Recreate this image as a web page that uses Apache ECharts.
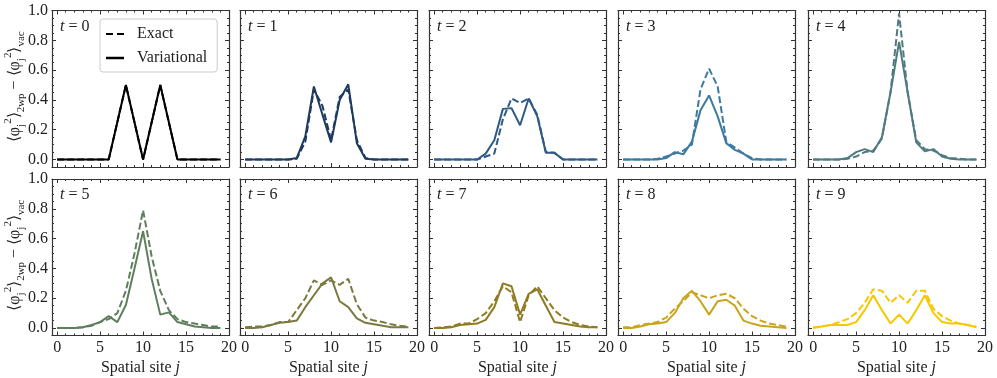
<!DOCTYPE html>
<html>
<head>
<meta charset="utf-8">
<script src="https://cdn.jsdelivr.net/npm/echarts@6/dist/echarts.min.js"></script>
<style>
  html, body { margin: 0; padding: 0; background: #fff; }
  #chart { width: 997px; height: 378px; }
</style>
</head>
<body>
<div id="chart"></div>
<script type="text/javascript">
var sites = [0,1,2,3,4,5,6,7,8,9,10,11,12,13,14,15,16,17,18,19];
var xTicks = [0,5,10,15,20];
var yTicks = [0,0.2,0.4,0.6,0.8,1.0];
var timeLabels = ['0','1','2','3','4','5','6','7','8','9'];
var lineColors = ['#000000','#1f3a5f','#2f5a85','#3d7aa0','#4f7b80','#5e7f5c','#7a7a40','#8e7b22','#c9a41c','#f8c700'];

// Exact (dashed) and Variational (solid) for t = 0..9
var exactT0 = [0,0,0,0,0,0,0,0.25,0.5,0.25,0,0.25,0.5,0.25,0,0,0,0,0,0];
var varT0   = [0,0,0,0,0,0,0,0.25,0.5,0.25,0,0.25,0.5,0.25,0,0,0,0,0,0];
var exactT1 = [0,0,0,0,0,0,0.005,0.12,0.47,0.36,0.13,0.42,0.47,0.13,0.01,0,0,0,0,0];
var varT1   = [0,0,0,0,0,0,0.01,0.155,0.49,0.3,0.115,0.4,0.505,0.11,0.005,0,0,0,0,0];
var exactT2 = [0,0,0,0,0,0,0.02,0.04,0.27,0.41,0.38,0.41,0.3,0.05,0.045,0,0,0,0,0];
var varT2   = [0,0,0,0,0,0,0.04,0.13,0.34,0.345,0.23,0.41,0.29,0.045,0.045,0,0,0,0,0];
var exactT3 = [0,0,0,0,0.005,0.02,0.04,0.06,0.1,0.47,0.61,0.49,0.12,0.08,0.04,0.01,0,0,0,0];
var varT3   = [0,0,0,0,0,0.01,0.05,0.035,0.12,0.33,0.43,0.29,0.11,0.065,0.04,0,0,0,0,0];
var exactT4 = [0,0,0,0,0.005,0.02,0.05,0.06,0.14,0.45,0.98,0.45,0.13,0.07,0.06,0.03,0.01,0.005,0,0];
var varT4   = [0,0,0,0,0.01,0.05,0.07,0.05,0.15,0.45,0.79,0.45,0.115,0.055,0.07,0.02,0.005,0,0,0];
var exactT5 = [0,0,0,0.005,0.015,0.04,0.06,0.1,0.25,0.5,0.79,0.48,0.25,0.12,0.06,0.04,0.03,0.02,0.01,0.01];
var varT5   = [0,0,0,0.005,0.02,0.04,0.08,0.04,0.155,0.4,0.65,0.33,0.09,0.105,0.04,0.025,0.01,0.005,0,0];
var exactT6 = [0.005,0.01,0.01,0.02,0.04,0.04,0.12,0.2,0.32,0.29,0.32,0.29,0.33,0.16,0.07,0.05,0.04,0.025,0.015,0.01];
var varT6   = [0,0,0.005,0.02,0.035,0.04,0.05,0.14,0.22,0.3,0.34,0.18,0.14,0.065,0.035,0.025,0.015,0.005,0.005,0.005];
var exactT7 = [0,0.005,0.01,0.03,0.03,0.06,0.1,0.18,0.28,0.24,0.04,0.22,0.28,0.2,0.12,0.07,0.04,0.02,0.01,0.005];
var varT7   = [0,0,0.005,0.02,0.025,0.03,0.055,0.14,0.3,0.28,0.09,0.23,0.26,0.15,0.04,0.03,0.02,0.01,0.005,0.005];
var exactT8 = [0.005,0.005,0.02,0.03,0.04,0.07,0.13,0.18,0.24,0.22,0.2,0.22,0.23,0.2,0.13,0.08,0.05,0.03,0.02,0.01];
var varT8   = [0,0,0.01,0.025,0.03,0.04,0.1,0.2,0.25,0.18,0.09,0.18,0.19,0.15,0.05,0.03,0.015,0.01,0.005,0];
var exactT9 = [0.005,0.01,0.02,0.04,0.06,0.1,0.17,0.26,0.25,0.17,0.22,0.17,0.25,0.25,0.13,0.08,0.05,0.03,0.02,0.01];
var varT9   = [0,0.01,0.02,0.02,0.02,0.04,0.12,0.22,0.12,0.03,0.09,0.03,0.12,0.22,0.1,0.04,0.03,0.03,0.02,0.005];

var exactAll = [exactT0,exactT1,exactT2,exactT3,exactT4,exactT5,exactT6,exactT7,exactT8,exactT9];
var varAll = [varT0,varT1,varT2,varT3,varT4,varT5,varT6,varT7,varT8,varT9];

var FONT = 'Liberation Serif';
var gridLefts = [52, 240, 429, 618, 808];
var gridTops = [10.5, 179];
var gridW = 177, gridH = 156.5;
var XMIN = -0.6, XMAX = 20, YMIN = -0.05, YMAX = 1.0;
var minorX = [], minorY = [];
for (var k = 0; k <= 20; k++) minorX.push(k);
for (var k = 0; k <= 20; k++) minorY.push(+(k * 0.05).toFixed(2));

var dom = document.getElementById('chart');
var myChart = echarts.init(dom);

var grids = [], xAxes = [], yAxes = [], series = [], graphics = [];
var lineCol = '#333';

function pairs(arr) {
  return sites.map(function (s, i) { return [s, arr[i]]; });
}

// axis that only draws a box side and/or ticks
function tickAxis(grid, pos, isX, ticks, len, withLine) {
  return {
    type: 'value', gridIndex: grid,
    min: isX ? XMIN : YMIN, max: isX ? XMAX : YMAX, position: pos,
    axisLine: { show: withLine, onZero: false, lineStyle: { color: lineCol, width: 1.2 } },
    axisLabel: { show: false }, splitLine: { show: false },
    axisTick: { show: true, inside: true, length: len, customValues: ticks, lineStyle: { color: lineCol } }
  };
}

for (var t = 0; t < 10; t++) {
  var row = Math.floor(t / 5), col = t % 5;
  grids.push({ left: gridLefts[col], top: gridTops[row], width: gridW, height: gridH });
  var showX = row === 1, showY = col === 0;
  var xBase = xAxes.length, yBase = yAxes.length;
  // bottom major (used by series)
  xAxes.push({
    type: 'value', gridIndex: t, min: XMIN, max: XMAX, position: 'bottom',
    axisLine: { show: true, onZero: false, lineStyle: { color: lineCol, width: 1.2 } },
    axisTick: { show: true, inside: true, length: 4, customValues: xTicks, lineStyle: { color: lineCol } },
    axisLabel: { show: showX, customValues: xTicks, margin: 4, color: '#222', fontFamily: FONT, fontSize: 16 },
    splitLine: { show: false },
    name: showX ? 'Spatial site {i|j}' : '', nameLocation: 'middle', nameGap: 24,
    nameTextStyle: { color: '#222', fontFamily: FONT, fontSize: 16, rich: { i: { fontStyle: 'italic', fontFamily: FONT, fontSize: 16 } } }
  });
  xAxes.push(tickAxis(t, 'bottom', true, minorX, 2, false));
  xAxes.push(tickAxis(t, 'top', true, xTicks, 4, true));
  xAxes.push(tickAxis(t, 'top', true, minorX, 2, false));
  yAxes.push({
    type: 'value', gridIndex: t, min: YMIN, max: YMAX, position: 'left',
    axisLine: { show: true, onZero: false, lineStyle: { color: lineCol, width: 1.2 } },
    axisTick: { show: true, inside: true, length: 4, customValues: yTicks, lineStyle: { color: lineCol } },
    axisLabel: { show: showY, customValues: yTicks, margin: 4, color: '#222', fontFamily: FONT, fontSize: 16,
      formatter: function (v) { return v.toFixed(1); } },
    splitLine: { show: false }
  });
  yAxes.push(tickAxis(t, 'left', false, minorY, 2, false));
  yAxes.push(tickAxis(t, 'right', false, yTicks, 4, true));
  yAxes.push(tickAxis(t, 'right', false, minorY, 2, false));

  series.push({
    name: t === 0 ? 'Exact' : 'Exact t=' + t, type: 'line', xAxisIndex: xBase, yAxisIndex: yBase,
    data: pairs(exactAll[t]), symbol: 'none', z: 3,
    lineStyle: { color: lineColors[t], width: 2, type: [7, 3] }, itemStyle: { color: lineColors[t] }
  });
  series.push({
    name: t === 0 ? 'Variational' : 'Variational t=' + t, type: 'line', xAxisIndex: xBase, yAxisIndex: yBase,
    data: pairs(varAll[t]), symbol: 'none', z: 4,
    lineStyle: { color: lineColors[t], width: 2 }, itemStyle: { color: lineColors[t] }
  });

  graphics.push({
    type: 'text', left: gridLefts[col] + 8, top: gridTops[row] + 8, z: 10,
    style: {
      text: '{i|t} = ' + timeLabels[t], fill: '#222', font: '16px ' + FONT,
      rich: { i: { fontStyle: 'italic', fontSize: 16, fontFamily: FONT, fill: '#222' } }
    }
  });
}

var yName = '⟨φ{sb|j}{sp|2}⟩{sb|2wp} − ⟨φ{sb|j}{sp|2}⟩{sb|vac}';
var yRich = {
  sb: { fontSize: 11, fontFamily: FONT, verticalAlign: 'bottom', lineHeight: 11, fill: '#222' },
  sp: { fontSize: 11, fontFamily: FONT, verticalAlign: 'top', lineHeight: 11, fill: '#222' }
};
for (var r = 0; r < 2; r++) {
  graphics.push({
    type: 'text', x: 15, y: gridTops[r] + gridH / 2 - 2, rotation: Math.PI / 2, z: 10,
    style: {
      text: yName, fill: '#222', fontFamily: FONT, fontSize: 16, lineHeight: 24,
      align: 'center', verticalAlign: 'middle', rich: yRich
    }
  });
}

option = {
  animation: false,
  backgroundColor: '#fff',
  grid: grids,
  xAxis: xAxes,
  yAxis: yAxes,
  legend: {
    data: [
      { name: 'Exact', icon: 'path://M0,0h7v2h-7zM11,0h7v2h-7z' },
      { name: 'Variational', icon: 'rect' }
    ],
    orient: 'vertical', left: 100, top: 19,
    itemWidth: 18, itemHeight: 2.5, itemGap: 8,
    padding: [7, 10, 6, 6],
    backgroundColor: '#fff', borderColor: '#ccc', borderWidth: 1, borderRadius: 3,
    textStyle: { fontFamily: FONT, fontSize: 16, color: '#222', padding: [0, 0, 0, 8] }
  },
  graphic: graphics,
  series: series
};
if (option && typeof option === "object") {
  myChart.setOption(option, true);
}
</script>
</body>
</html>
